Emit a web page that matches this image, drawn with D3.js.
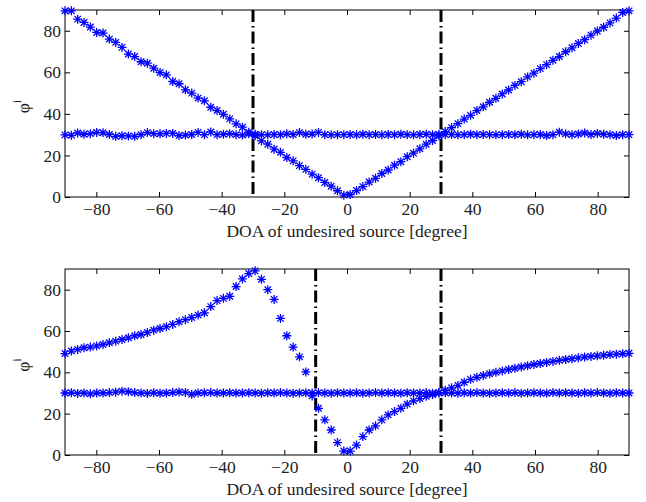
<!DOCTYPE html>
<html>
<head>
<meta charset="utf-8">
<style>
  body { margin: 0; background: #fff; }
  svg text { font-family: "Liberation Serif", "Times New Roman", Times, serif; }
</style>
</head>
<body>
<script src="https://d3js.org/d3.v7.min.js"></script>
<script>
var w = 646, h = 502;

// sampling grid of the DOA axis (90 points from -90 to 90)
var doaMin = -90, doaMax = 90, nPts = 90;
var xTicks = [-80, -60, -40, -20, 0, 20, 40, 60, 80];
var yTicks = [0, 20, 40, 60, 80];
var xLabel = 'DOA of undesired source [degree]';

// top panel
var topV = [89.6, 89.6, 85.6, 84.0, 81.8, 79.2, 78.9, 76.0, 74.4, 72.0,
            68.8, 67.6, 65.1, 64.4, 62.0, 59.9, 58.8, 55.6, 54.5, 51.6,
            50.0, 47.6, 46.3, 43.2, 41.6, 39.8, 37.6, 35.2, 33.6, 31.2,
            29.5, 27.0, 25.4, 23.0, 21.5, 19.0, 17.4, 15.1, 13.3, 11.0,
            9.3, 7.0, 5.2, 3.0, 0.9, 1.2, 3.1, 5.0, 7.2, 9.0,
            11.3, 13.0, 15.3, 17.0, 19.4, 21.1, 23.2, 25.4, 27.2, 29.5,
            31.5, 33.4, 35.3, 37.5, 39.3, 41.6, 43.4, 45.6, 47.5, 49.6,
            51.5, 53.7, 55.5, 57.8, 59.6, 61.8, 63.7, 65.8, 67.6, 69.9,
            71.8, 73.9, 75.7, 77.9, 79.9, 81.7, 83.8, 86.1, 88.8, 89.6];
var topFlat = [29.9, 29.7, 30.8, 30.2, 30.5, 31.1, 30.9, 30.1, 29.2, 29.5,
               29.4, 29.2, 30.0, 31.0, 30.5, 30.4, 30.6, 30.6, 29.6, 29.8,
               30.1, 31.1, 30.0, 31.3, 30.0, 30.2, 30.5, 30.0, 29.8, 30.4,
               30.2, 30.0, 29.9, 30.1, 30.0, 30.4, 30.1, 31.0, 30.2, 30.3,
               31.1, 30.0, 29.9, 30.0, 30.0, 30.1, 29.9, 30.2, 30.0, 30.1,
               29.9, 30.1, 30.0, 30.2, 30.0, 29.9, 30.1, 30.2, 30.0, 30.1,
               30.0, 30.1, 29.9, 30.0, 30.2, 30.0, 30.1, 30.0, 29.9, 30.0,
               30.1, 30.0, 30.2, 29.9, 30.0, 30.1, 29.6, 30.0, 31.2, 30.4,
               30.0, 30.3, 30.8, 30.1, 30.6, 30.2, 30.0, 29.6, 30.0, 30.0];
var topMarks = [-30, 30];

// bottom panel
var botCurve = [49.1, 50.3, 51.1, 51.9, 52.2, 52.8, 53.5, 54.3, 55.1, 55.9,
                56.7, 57.7, 58.3, 59.3, 60.4, 61.2, 62.1, 63.2, 64.5, 65.5,
                66.5, 67.7, 68.8, 71.8, 74.7, 75.8, 76.8, 81.5, 85.2, 87.8,
                89.1, 85.0, 80.0, 75.3, 66.1, 57.7, 52.2, 47.5, 40.2, 28.6,
                22.6, 17.0, 12.1, 6.0, 1.9, 1.9, 4.8, 8.9, 12.1, 14.1,
                17.0, 19.4, 21.0, 22.6, 24.6, 26.2, 27.3, 28.4, 29.3, 30.2,
                31.3, 32.5, 33.6, 35.2, 36.6, 37.6, 38.5, 39.3, 40.0, 40.7,
                41.4, 42.0, 42.6, 43.2, 43.8, 44.3, 44.8, 45.3, 45.8, 46.2,
                46.6, 47.0, 47.4, 47.7, 48.0, 48.3, 48.6, 48.8, 49.0, 49.2];
var botFlat = [30.0, 30.1, 29.8, 30.0, 29.6, 30.0, 30.0, 30.2, 30.4, 30.9,
               30.6, 30.2, 30.0, 29.8, 30.1, 29.9, 30.0, 30.2, 30.5, 30.3,
               29.4, 30.0, 30.1, 30.2, 30.0, 30.0, 30.1, 30.0, 30.0, 30.1,
               30.0, 29.9, 30.1, 30.0, 30.2, 30.0, 29.9, 30.0, 30.1, 30.0,
               30.2, 30.0, 29.9, 30.1, 30.0, 30.0, 30.1, 29.9, 30.0, 30.2,
               30.0, 30.1, 30.0, 29.9, 30.1, 30.0, 30.0, 30.2, 29.9, 30.0,
               30.1, 30.0, 29.9, 30.1, 30.0, 30.2, 30.0, 29.9, 30.0, 30.1,
               30.0, 30.2, 29.9, 30.0, 30.1, 30.0, 29.9, 30.2, 30.0, 30.1,
               30.0, 29.9, 30.1, 30.0, 30.2, 30.0, 29.9, 30.1, 30.0, 30.0];
var botMarks = [-10, 30];

var doa = d3.range(nPts).map(i => doaMin + i * (doaMax - doaMin) / (nPts - 1));

var serif = '"Liberation Serif", "Times New Roman", Times, serif';
var fs = 17.5;

var svg = d3.select('body')
            .append('svg')
            .attr('width', w)
            .attr('height', h)
            .style('font-family', serif);

var left = 65, right = 629;
var panels = [
  {top: 10, bottom: 197, series: [topV, topFlat], marks: topMarks},
  {top: 269, bottom: 455, series: [botCurve, botFlat], marks: botMarks}
];

var x = d3.scaleLinear().domain([doaMin, doaMax]).range([left, right]);
var minus = d => d < 0 ? '\u2212' + Math.abs(d) : '' + d;

// MATLAB style '*' marker
function star(s) {
  var d = s * 0.72;
  return 'M' + (-s) + ',0H' + s + 'M0,' + (-s) + 'V' + s +
         'M' + (-d) + ',' + (-d) + 'L' + d + ',' + d +
         'M' + (-d) + ',' + d + 'L' + d + ',' + (-d);
}

panels.forEach(function(p) {
  var y = d3.scaleLinear().domain([0, 90]).range([p.bottom, p.top]);
  var g = svg.append('g');

  // axes with inward ticks on all four sides
  var ax = [
    {a: d3.axisBottom(x).tickValues(xTicks).tickFormat(minus), t: 'translate(0,' + p.bottom + ')', pad: 6},
    {a: d3.axisTop(x).tickValues(xTicks).tickFormat(''), t: 'translate(0,' + p.top + ')', pad: 6},
    {a: d3.axisLeft(y).tickValues(yTicks), t: 'translate(' + left + ',0)', pad: 4},
    {a: d3.axisRight(y).tickValues(yTicks).tickFormat(''), t: 'translate(' + right + ',0)', pad: 4}
  ];
  ax.forEach(function(o) {
    var ag = g.append('g').attr('transform', o.t)
      .call(o.a.tickSizeInner(-5).tickSizeOuter(0).tickPadding(o.pad));
    ag.attr('font-family', null).attr('font-size', null);
    ag.select('.domain').remove();
    ag.selectAll('line').attr('stroke', '#000');
    ag.selectAll('text').attr('font-size', fs).attr('fill', '#222')
      .style('font-family', serif);
  });

  g.append('rect')
    .attr('x', left).attr('y', p.top)
    .attr('width', right - left).attr('height', p.bottom - p.top)
    .attr('fill', 'none').attr('stroke', '#000').attr('stroke-width', 1);

  // vertical dash-dot lines
  g.selectAll('line.mark')
    .data(p.marks)
    .enter()
    .append('line')
    .attr('class', 'mark')
    .attr('x1', d => x(d)).attr('x2', d => x(d))
    .attr('y1', p.top).attr('y2', p.bottom)
    .attr('stroke', '#000')
    .attr('stroke-width', 3)
    .attr('stroke-dasharray', '12,4,1.5,4');

  // star markers
  p.series.forEach(function(vals) {
    g.selectAll(null)
      .data(vals)
      .enter()
      .append('path')
      .attr('d', star(4.5))
      .attr('transform', (d, i) => 'translate(' + x(doa[i]) + ',' + y(d) + ')')
      .attr('fill', 'none')
      .attr('stroke', '#0000ff')
      .attr('stroke-width', 1.3);
  });

  // labels
  g.append('text')
    .attr('x', (left + right) / 2)
    .attr('y', p.bottom + 40)
    .attr('text-anchor', 'middle')
    .attr('font-size', fs)
    .attr('fill', '#222')
    .style('font-family', serif)
    .text(xLabel);

  var yl = g.append('text')
    .attr('transform', 'translate(29,' + ((p.top + p.bottom) / 2 + 3) + ') rotate(-90)')
    .attr('text-anchor', 'middle')
    .attr('font-size', fs)
    .attr('fill', '#222')
    .style('font-family', serif);
  yl.append('tspan').text('\u03c6');
  yl.append('tspan').attr('dy', -8).attr('font-size', 12).text('i');
});
</script>
</body>
</html>
